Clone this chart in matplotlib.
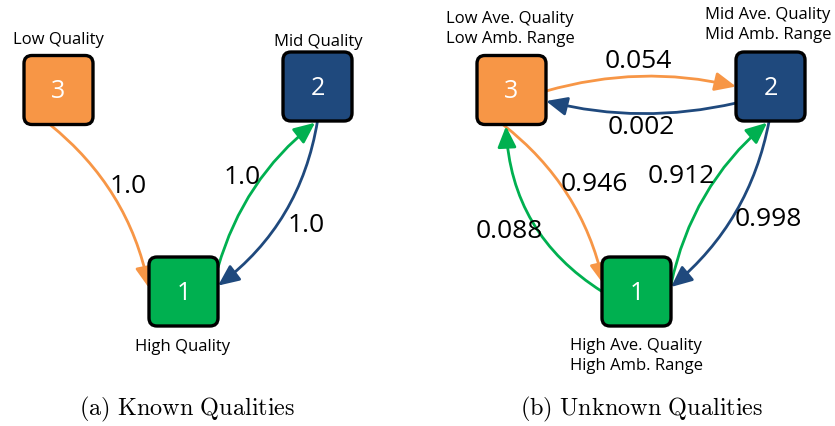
import matplotlib
matplotlib.use("Agg")
import matplotlib.pyplot as plt
from matplotlib.patches import FancyBboxPatch, FancyArrowPatch

plt.rcParams['mathtext.fontset'] = 'cm'

# --- data -------------------------------------------------------------
state_ids = ["1", "2", "3"]
state_colors = {"1": "#00B050", "2": "#1F497D", "3": "#F79646"}

known_names = {"3": "Low Quality", "2": "Mid Quality", "1": "High Quality"}
unknown_names = {"3": "Low Ave. Quality\nLow Amb. Range",
                 "2": "Mid Ave. Quality\nMid Amb. Range",
                 "1": "High Ave. Quality\nHigh Amb. Range"}

# transitions (from, to, probability label)
known_edges = [("3", "1", "1.0"), ("1", "2", "1.0"), ("2", "1", "1.0")]
unknown_edges = [("3", "2", "0.054"), ("2", "3", "0.002"), ("3", "1", "0.946"),
                 ("1", "3", "0.088"), ("1", "2", "0.912"), ("2", "1", "0.998")]

captions = [r"$\mathrm{(a)\ Known\ Qualities}$", r"$\mathrm{(b)\ Unknown\ Qualities}$"]

# --- layout (pixel coords, y down) -------------------------------------
W, H = 835, 427
HALF = 34.5
known_pos = {"3": (58.5, 91), "2": (317.5, 87.5), "1": (183.5, 292.5)}
unknown_pos = {"3": (511.5, 91), "2": (770.5, 87.5), "1": (636.5, 292.5)}

known_name_xy = {"3": (58, 40), "2": (318, 42), "1": (183, 347)}
unknown_name_xy = {"3": (510, 29), "2": (768, 25), "1": (636, 356)}

# per edge: start anchor, end anchor (in half box units), arc rad, label xy
known_geom = [((-0.25, 1.0), (-1.0, -0.1), -0.18, (128, 187)),
              ((1.0, -0.7), (-0.07, 1.05), -0.16, (242, 178)),
              ((0.0, 1.0), (1.0, -0.17), -0.2, (306, 226))]
unknown_geom = [((1.0, 0.03), (-1.0, 0.0), -0.13, (638, 62)),
                ((-1.0, 0.48), (1.0, 0.32), -0.12, (641, 127)),
                ((-0.25, 1.0), (-0.95, -0.2), -0.18, (594, 185)),
                ((-1.0, 0.0), (-0.16, 1.05), -0.26, (509, 232)),
                ((1.0, -0.2), (-0.1, 1.05), -0.17, (681, 177)),
                ((-0.04, 1.0), (1.0, -0.13), -0.18, (768, 220))]

caption_xy = [(187, 409), (642, 409)]

LABEL_FONT = ["Open Sans", "DejaVu Sans"]

fig = plt.figure(figsize=(W / 100, H / 100), dpi=100)
ax = fig.add_axes([0, 0, 1, 1])
ax.set_xlim(0, W)
ax.set_ylim(H, 0)
ax.axis("off")


def draw_graph(pos, names, name_xy, edges, geom):
    for (src, dst, p), (a0, a1, rad, lxy) in zip(edges, geom):
        x0 = pos[src][0] + a0[0] * HALF
        y0 = pos[src][1] + a0[1] * HALF
        x1 = pos[dst][0] + a1[0] * HALF
        y1 = pos[dst][1] + a1[1] * HALF
        arr = FancyArrowPatch((x0, y0), (x1, y1),
                              connectionstyle="arc3,rad=%g" % rad,
                              arrowstyle="-|>,head_length=0.85,head_width=0.38",
                              mutation_scale=15, lw=2.0,
                              color=state_colors[src], shrinkA=0, shrinkB=0,
                              zorder=2)
        ax.add_patch(arr)
        ax.text(lxy[0], lxy[1], p, ha="center", va="center", fontsize=19,
                family=LABEL_FONT, color="black")
    for s in state_ids:
        cx, cy = pos[s]
        box = FancyBboxPatch((cx - HALF + 6, cy - HALF + 6), 2 * HALF - 12, 2 * HALF - 12,
                             boxstyle="round,pad=6,rounding_size=8",
                             fc=state_colors[s], ec="black", lw=2.4, zorder=3)
        ax.add_patch(box)
        ax.text(cx, cy + 1, s, ha="center", va="center", fontsize=18,
                color="white", family=LABEL_FONT, zorder=4)
        nx, ny = name_xy[s]
        ax.text(nx, ny, names[s], ha="center", va="center", fontsize=12,
                family=LABEL_FONT, linespacing=1.4, color="black")


draw_graph(known_pos, known_names, known_name_xy, known_edges, known_geom)
draw_graph(unknown_pos, unknown_names, unknown_name_xy, unknown_edges, unknown_geom)

for (cx, cy), cap in zip(caption_xy, captions):
    ax.text(cx, cy, cap, ha="center", va="center", fontsize=17.5)

fig.savefig("out.png", dpi=100)
